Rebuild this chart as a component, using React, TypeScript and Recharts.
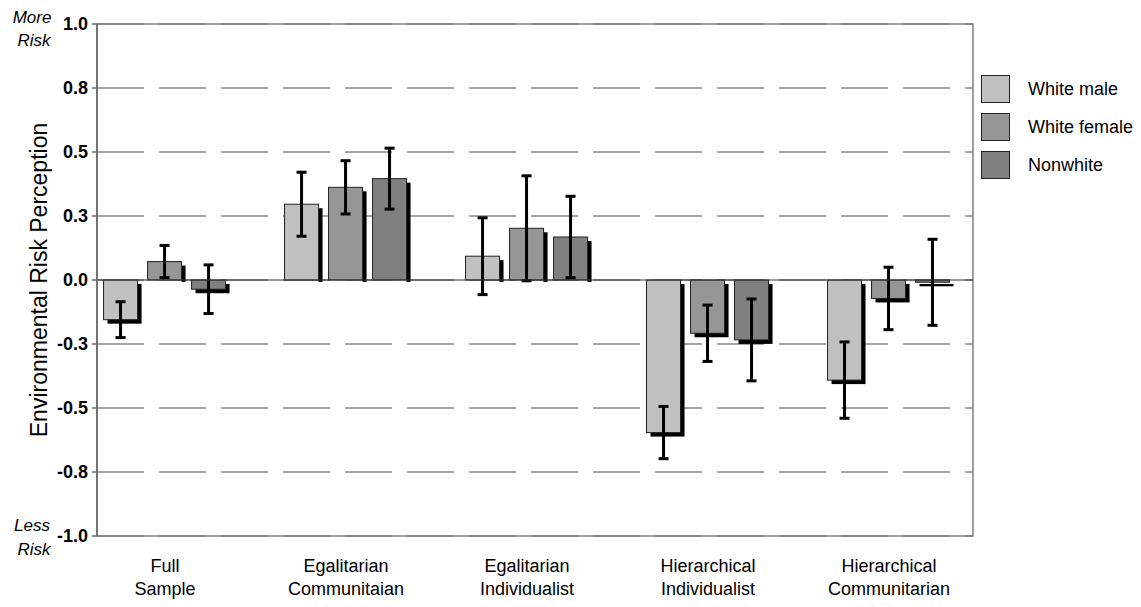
import React from "react";
import {
  BarChart,
  Bar,
  XAxis,
  YAxis,
  CartesianGrid,
  ErrorBar,
  ReferenceLine,
  ReferenceArea,
} from "recharts";

const groups = [
  "Full Sample",
  "Egalitarian Communitaian",
  "Egalitarian Individualist",
  "Hierarchical Individualist",
  "Hierarchical Communitarian",
];

const whiteMale = [-0.155, 0.296, 0.093, -0.596, -0.391];
const whiteMaleErr = [0.07, 0.125, 0.15, 0.102, 0.149];
const whiteFemale = [0.072, 0.362, 0.202, -0.208, -0.072];
const whiteFemaleErr = [0.063, 0.104, 0.205, 0.11, 0.122];
const nonwhite = [-0.036, 0.396, 0.168, -0.234, -0.009];
const nonwhiteErr = [0.095, 0.119, 0.159, 0.16, 0.168];

const seriesNames = ["White male", "White female", "Nonwhite"];
const seriesKeys = ["wm", "wf", "nw"];
const seriesColors = ["#c0c0c0", "#969696", "#808080"];

const yTicks = [-1, -0.75, -0.5, -0.25, 0, 0.25, 0.5, 0.75, 1];

const FONT = "'Liberation Sans', Arial, Helvetica, sans-serif";

// groups sit on a numeric axis by their index so the outer margins can be set freely
const data = groups.map((group, i) => ({
  idx: i,
  group,
  wm: whiteMale[i],
  wmErr: whiteMaleErr[i],
  wf: whiteFemale[i],
  wfErr: whiteFemaleErr[i],
  nw: nonwhite[i],
  nwErr: nonwhiteErr[i],
}));

// bar with a black drop shadow, Excel style
const ShadowBar = (props: any) => {
  const { x, y, width, height, fill, payload, dataKey } = props;
  if (width == null || height == null) return null;
  const top = Math.min(y, y + height);
  const h = Math.abs(height);
  const v = payload && dataKey ? payload[dataKey] : height;
  const neg = height < 0 || v < 0;
  return (
    <g>
      {neg ? (
        <rect x={x + 4} y={top + 4} width={width} height={h} fill="#000" />
      ) : (
        <rect x={x + width} y={top + 4} width={4} height={Math.max(h - 2, 0)} fill="#000" />
      )}
      <rect x={x} y={top} width={width} height={h} fill={fill} stroke="#222" strokeWidth={1} />
    </g>
  );
};

const YTick = (props: any) => {
  const { x, y, payload } = props;
  const v = payload.value as number;
  const italic = { fontFamily: FONT, fontSize: 17, fontStyle: "italic" as const, fill: "#000" };
  return (
    <g>
      <text x={x} y={y} dy={6} textAnchor="end" fontFamily={FONT} fontSize={18} fontWeight="bold" fill="#000">
        {v.toFixed(1)}
      </text>
      {v === 1 && (
        <text {...italic} textAnchor="middle">
          <tspan x={32} y={y - 1}>More</tspan>
          <tspan x={34} dy={23}>Risk</tspan>
        </text>
      )}
      {v === -1 && (
        <text {...italic} textAnchor="middle">
          <tspan x={32} y={y - 5}>Less</tspan>
          <tspan x={34} dy={24}>Risk</tspan>
        </text>
      )}
    </g>
  );
};

const XTick = (props: any) => {
  const { x, y, payload } = props;
  const name = groups[Math.round(payload.value)] ?? "";
  const [first, second] = name.split(" ");
  return (
    <text x={x} y={y} textAnchor="middle" fontFamily={FONT} fontSize={18} fill="#000">
      <tspan x={x} dy={28}>{first}</tspan>
      <tspan x={x} dy={23}>{second}</tspan>
    </text>
  );
};

export default function App() {
  return (
    <div style={{ position: "absolute", left: 0, top: 0, width: 1141, height: 607, background: "#fff" }}>
      <BarChart
        width={1141}
        height={607}
        data={data}
        margin={{ top: 24, right: 168, bottom: 0, left: 0 }}
        barGap={10}
        barSize={34}
      >
        <CartesianGrid vertical={false} stroke="#4a4a4a" strokeDasharray="47 15" />
        <XAxis
          dataKey="idx"
          type="number"
          domain={[-0.376, 4.464]}
          ticks={[0, 1, 2, 3, 4]}
          height={71}
          axisLine={false}
          tickLine={false}
          interval={0}
          tick={<XTick />}
        />
        <YAxis
          width={97}
          domain={[-1, 1]}
          ticks={yTicks}
          interval={0}
          tickSize={5}
          tickMargin={4}
          axisLine={{ stroke: "#666", strokeWidth: 1.5 }}
          tickLine={{ stroke: "#666", strokeWidth: 1.5 }}
          tick={<YTick />}
          label={{
            value: "Environmental Risk Perception",
            angle: -90,
            position: "center",
            dx: -10,
            style: { fontFamily: FONT, fontSize: 23, fill: "#000" },
          }}
        />
        <ReferenceArea y1={-1} y2={1} fill="none" stroke="#808080" strokeWidth={1.5} ifOverflow="visible" />
        {seriesKeys.map((k, i) => (
          <Bar
            key={k}
            dataKey={k}
            name={seriesNames[i]}
            fill={seriesColors[i]}
            isAnimationActive={false}
            shape={(p: any) => <ShadowBar {...p} />}
          >
            <ErrorBar dataKey={k + "Err"} direction="y" width={5} stroke="#000" strokeWidth={3} />
          </Bar>
        ))}
        <ReferenceLine y={0} stroke="#333" strokeWidth={1} />
      </BarChart>
      <div style={{ position: "absolute", left: 981, top: 75 }}>
        {seriesNames.map((n, i) => (
          <div key={n} style={{ display: "flex", alignItems: "center", height: 28, marginBottom: 10 }}>
            <div style={{ width: 27, height: 26, background: seriesColors[i], border: "1px solid #222" }} />
            <span style={{ marginLeft: 18, fontFamily: FONT, fontSize: 18, color: "#000", whiteSpace: "nowrap" }}>{n}</span>
          </div>
        ))}
      </div>
    </div>
  );
}
